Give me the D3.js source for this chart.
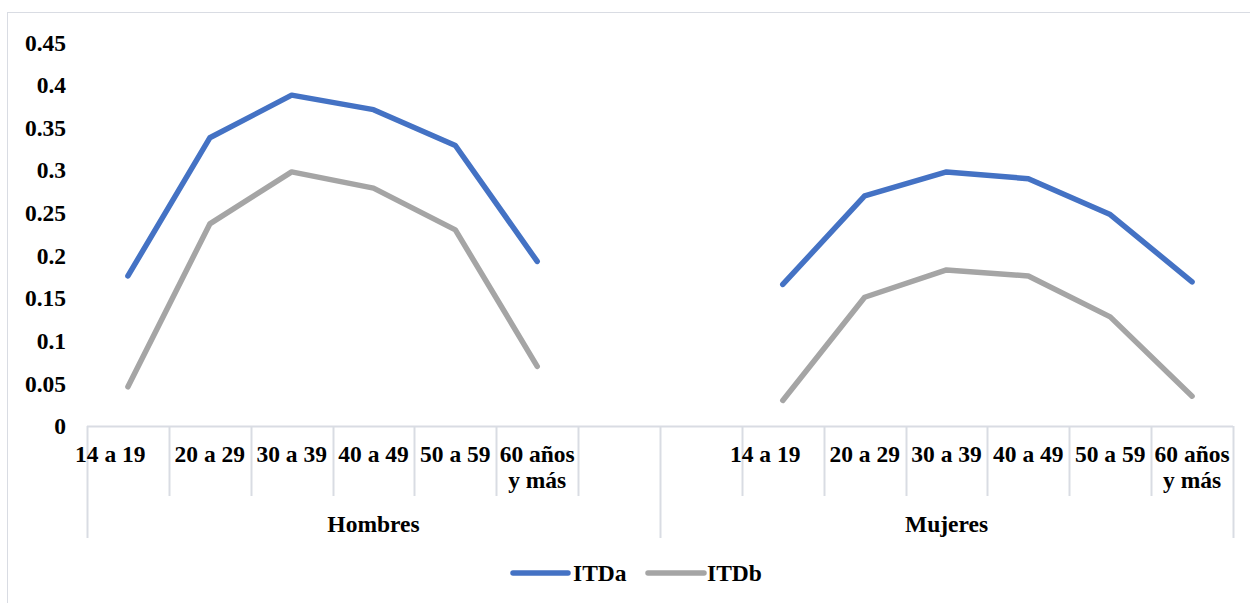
<!DOCTYPE html>
<html>
<head>
<meta charset="utf-8">
<script src="https://cdn.jsdelivr.net/npm/d3@7"></script>
<style>
  html, body { margin: 0; padding: 0; background: #fff; }
  svg { display: block; }
  text { font-family: "Liberation Serif", "Times New Roman", serif; font-weight: bold; fill: #000; white-space: pre; }
</style>
</head>
<body>
<svg id="chart" width="1250" height="603"></svg>
<script>
// ---- data ----
const groups = ["Hombres", "Mujeres"];
const ageLabels = ["14 a 19", "20 a 29", "30 a 39", "40 a 49", "50 a 59", "60 años\ny más"];
const hombresITDa = [0.176, 0.338, 0.388, 0.371, 0.329, 0.193];
const hombresITDb = [0.046, 0.237, 0.298, 0.279, 0.230, 0.070];
const mujeresITDa = [0.166, 0.270, 0.298, 0.290, 0.248, 0.169];
const mujeresITDb = [0.030, 0.151, 0.183, 0.176, 0.128, 0.035];
const seriesNames = ["ITDa", "ITDb"];
const seriesColors = ["#4472C4", "#A5A5A5"];
const yTicks = [0, 0.05, 0.1, 0.15, 0.2, 0.25, 0.3, 0.35, 0.4, 0.45];

// category slots: Hombres 6 ages + blank, blank + Mujeres 6 ages
const slots = [];
ageLabels.forEach((a, i) => slots.push({ key: "H" + i, label: a, group: 0 }));
slots.push({ key: "H_blank", label: "", group: 0 });
slots.push({ key: "M_blank", label: "", group: 1 });
ageLabels.forEach((a, i) => slots.push({ key: "M" + i, label: a, group: 1 }));

const series = [
  { name: seriesNames[0], color: seriesColors[0], segs: [
      hombresITDa.map((v, i) => ({ key: "H" + i, v })),
      mujeresITDa.map((v, i) => ({ key: "M" + i, v })) ] },
  { name: seriesNames[1], color: seriesColors[1], segs: [
      hombresITDb.map((v, i) => ({ key: "H" + i, v })),
      mujeresITDb.map((v, i) => ({ key: "M" + i, v })) ] }
];

// ---- layout ----
const svg = d3.select("#chart");
const plotLeft = 87, plotRight = 1233, plotTop = 42.3, plotBottom = 426;
const gridColor = "#d9dce3";
const fs = 23.5;

// chart border
svg.append("rect").attr("x", 7.5).attr("y", 12.5).attr("width", 1250).attr("height", 600)
  .attr("fill", "none").attr("stroke", "#d9dce3").attr("stroke-width", 1);

const x = d3.scaleBand().domain(slots.map(d => d.key)).range([plotLeft, plotRight]).padding(0);
const y = d3.scaleLinear().domain([0, 0.45]).range([plotBottom, plotTop]);

// y axis labels
const yAxis = d3.axisLeft(y).tickValues(yTicks).tickSize(0).tickPadding(0)
  .tickFormat(d => String(+d.toFixed(2)));
const yg = svg.append("g").attr("transform", "translate(66,0)").call(yAxis);
yg.attr("font-family", null).attr("font-size", null);
yg.select(".domain").remove();
yg.selectAll("text").attr("font-size", fs).attr("dy", "0.33em").attr("fill", "#000")
  .style("font-family", "'Liberation Serif', 'Times New Roman', serif").style("font-weight", "bold");

// x axis line
svg.append("line").attr("x1", plotLeft).attr("x2", plotRight).attr("y1", plotBottom + 0.5).attr("y2", plotBottom + 0.5)
  .attr("stroke", gridColor).attr("stroke-width", 2);

// tick separators
const bounds = d3.range(slots.length + 1);
svg.append("g").selectAll("line").data(bounds).join("line")
  .attr("x1", i => Math.round(plotLeft + i * x.bandwidth()) + 0.5)
  .attr("x2", i => Math.round(plotLeft + i * x.bandwidth()) + 0.5)
  .attr("y1", plotBottom)
  .attr("y2", i => (i === 0 || i === 7 || i === 14) ? 538 : 496)
  .attr("stroke", gridColor).attr("stroke-width", 2);

// category labels
const catG = svg.append("g");
slots.forEach(s => {
  if (!s.label) return;
  const lines = s.label.split("\n");
  const cx = x(s.key) + x.bandwidth() / 2;
  const t = catG.append("text")
    .attr("x", cx)
    .attr("y", 462)
    .attr("text-anchor", "middle")
    .attr("font-size", fs);
  lines.forEach((ln, j) => {
    const shown = (ln === "14 a 19") ? ln + "\u00A0\u00A0\u00A0\u00A0\u00A0\u00A0" : ln;
    t.append("tspan").attr("x", cx).attr("dy", j === 0 ? 0 : 26).text(shown);
  });
});

// group labels
groups.forEach((g, gi) => {
  const x0 = plotLeft + gi * 7 * x.bandwidth();
  svg.append("text")
    .attr("x", x0 + 3.5 * x.bandwidth())
    .attr("y", 532)
    .attr("text-anchor", "middle")
    .attr("font-size", fs)
    .text(g);
});

// lines
const line = d3.line().x(d => x(d.key) + x.bandwidth() / 2).y(d => y(d.v));
series.forEach(s => {
  s.segs.forEach(seg => {
    svg.append("path").datum(seg).attr("d", line)
      .attr("fill", "none").attr("stroke", s.color).attr("stroke-width", 5.5)
      .attr("stroke-linecap", "round").attr("stroke-linejoin", "round");
  });
});

// legend
const legendItems = [{ x1: 513, x2: 568, tx: 573 }, { x1: 648, x2: 704, tx: 707 }];
series.forEach((s, i) => {
  const L = legendItems[i];
  svg.append("line").attr("x1", L.x1).attr("x2", L.x2).attr("y1", 573).attr("y2", 573)
    .attr("stroke", s.color).attr("stroke-width", 5.5).attr("stroke-linecap", "round");
  svg.append("text").attr("x", L.tx).attr("y", 581).attr("font-size", fs).text(s.name);
});
</script>
</body>
</html>
